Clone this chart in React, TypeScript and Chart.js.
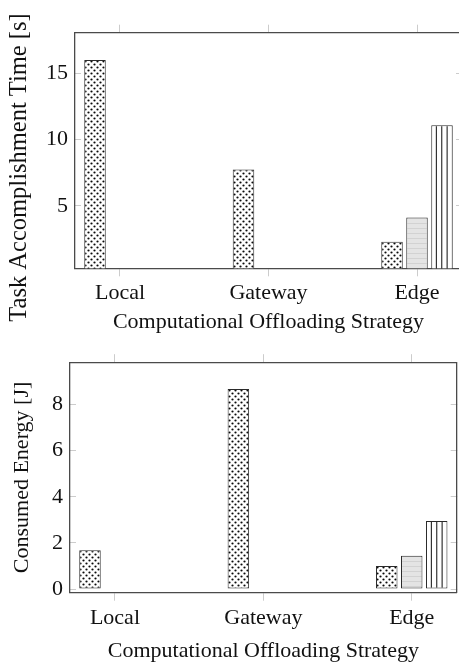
import React, { useEffect, useRef } from 'react';
import { Chart, registerables } from 'chart.js';

Chart.register(...registerables);

// ---------- data ----------
const categories = ['Local', 'Gateway', 'Edge'];

const timeDots = [16.0, 7.75, 2.3];
const timeHLines = [null, null, 4.12];
const timeVLines = [null, null, 11.08];

const energyDots = [1.68, 8.68, 1.0];
const energyHLines = [null, null, 1.44];
const energyVLines = [null, null, 2.95];

const timeTicks = [5, 10, 15];
const energyTicks = [0, 2, 4, 6, 8];

const xTitle = 'Computational Offloading Strategy';
const timeTitle = 'Task Accomplishment Time [s]';
const energyTitle = 'Consumed Energy [J]';

// ---------- styling ----------
const FONT = '"Liberation Serif", "Times New Roman", serif';
const TEXT = '#111111';
const FRAME = '#4a4a4a';
const TICK = '#cccccc';

function makeTile(w: number, h: number, draw: (g: CanvasRenderingContext2D) => void): CanvasPattern {
  const c = document.createElement('canvas');
  c.width = w;
  c.height = h;
  const g = c.getContext('2d')!;
  draw(g);
  return g.createPattern(c, 'repeat')!;
}

function dotsPattern() {
  return makeTile(6, 6, (g) => {
    g.fillStyle = '#ffffff';
    g.fillRect(0, 0, 6, 6);
    g.fillStyle = '#0a0a0a';
    for (const [cx, cy] of [[1.5, 1.5], [4.5, 4.5]]) {
      g.beginPath();
      g.arc(cx, cy, 1.1, 0, Math.PI * 2);
      g.fill();
    }
  });
}

function hLinesPattern() {
  return makeTile(8, 5, (g) => {
    g.fillStyle = '#e4e4e4';
    g.fillRect(0, 0, 8, 5);
    g.fillStyle = '#d2d2d2';
    g.fillRect(0, 0, 8, 1);
  });
}

function vLinesPattern() {
  return makeTile(43, 8, (g) => {
    g.fillStyle = '#ffffff';
    g.fillRect(0, 0, 43, 8);
    g.strokeStyle = '#222222';
    g.lineWidth = 1.1;
    for (let k = 0; k < 8; k++) {
      const x = k * 5.375;
      g.beginPath();
      g.moveTo(x, 0);
      g.lineTo(x, 8);
      g.stroke();
    }
  });
}

const alignPatterns = {
  id: 'alignPatterns',
  beforeDatasetsDraw(chart: any) {
    chart.data.datasets.forEach((ds: any, i: number) => {
      const meta = chart.getDatasetMeta(i);
      const pats = ds.backgroundColor;
      if (!Array.isArray(pats)) return;
      meta.data.forEach((el: any, j: number) => {
        const p = pats[j];
        if (p && typeof p.setTransform === 'function') {
          const left = Math.round(el.x - el.width / 2);
          p.setTransform(new DOMMatrix([1, 0, 0, 1, left, Math.round(el.y)]));
        }
      });
    });
  },
};

function points(values: (number | null)[]) {
  return values
    .map((v, i) => (v == null ? null : { x: i, y: v }))
    .filter((p) => p !== null) as { x: number; y: number }[];
}

function dataset(values: (number | null)[], pat: () => CanvasPattern) {
  const data = points(values);
  return {
    data,
    backgroundColor: data.map(() => pat()),
    borderColor: '#2a2a2a',
    borderWidth: 1,
    borderSkipped: false,
    categoryPercentage: 0.505,
    barPercentage: 0.86,
  };
}

type Cfg = {
  series: (number | null)[][];
  yMin: number;
  yMax: number;
  yTicks: number[];
  yTitle: string;
  titleAsPlugin: boolean;
  yTitleSize: number;
  yTitlePad: number;
  yWidth: number;
  xHeight: number;
  topHeight: number;
  padRight: number;
};

function buildConfig(c: Cfg): any {
  const font = { family: FONT, size: 22 };
  const xTicksFromCats = (s: any) => {
    s.ticks = categories.map((_, i) => ({ value: i }));
  };
  const yTicksFromList = (s: any) => {
    s.ticks = c.yTicks.map((v) => ({ value: v }));
  };
  const xCommon = {
    type: 'linear',
    min: -0.303,
    max: 2.303,
    offset: false,
    afterBuildTicks: xTicksFromCats,
    grid: { drawOnChartArea: false, drawTicks: true, tickLength: 8, color: TICK, lineWidth: 1, offset: false },
    border: { display: true, color: FRAME, width: 1.3 },
  };
  const yCommon = {
    type: 'linear',
    min: c.yMin,
    max: c.yMax,
    afterBuildTicks: yTicksFromList,
    grid: { drawOnChartArea: false, drawTicks: true, tickLength: -6, color: TICK, lineWidth: 1 },
    border: { display: true, color: FRAME, width: 1.3 },
  };
  const titleBox = c.yTitleSize * 1.2 + c.yTitlePad;
  return {
    type: 'bar',
    data: {
      datasets: [
        dataset(c.series[0], dotsPattern),
        dataset(c.series[1], hLinesPattern),
        dataset(c.series[2], vLinesPattern),
      ],
    },
    plugins: [alignPatterns],
    options: {
      animation: false,
      responsive: false,
      maintainAspectRatio: false,
      events: [],
      layout: { padding: { left: 0, right: c.padRight, top: 0, bottom: 0 } },
      plugins: {
        legend: { display: false },
        tooltip: { enabled: false },
        title: {
          display: c.titleAsPlugin,
          text: c.yTitle,
          position: 'left',
          fullSize: true,
          color: TEXT,
          font: { family: FONT, size: c.yTitleSize, weight: 'normal' },
          padding: { top: c.yTitlePad, bottom: 0 },
        },
      },
      scales: {
        x: {
          ...xCommon,
          position: 'bottom',
          ticks: {
            callback: (v: number) => categories[v] ?? '',
            padding: 4,
            font,
            color: TEXT,
            maxRotation: 0,
            autoSkip: false,
          },
          title: { display: true, text: xTitle, font, color: TEXT, padding: { top: 0, bottom: 0 } },
          afterFit: (s: any) => {
            s.height = c.xHeight;
          },
        },
        x2: {
          ...xCommon,
          position: 'top',
          ticks: { display: false },
          afterFit: (s: any) => {
            s.height = c.topHeight;
          },
        },
        y: {
          ...yCommon,
          position: 'left',
          ticks: { padding: 13, font, color: TEXT },
          title: {
            display: !c.titleAsPlugin,
            text: c.yTitle,
            font: { family: FONT, size: c.yTitleSize },
            color: TEXT,
            padding: { top: c.yTitlePad, bottom: 0 },
          },
          afterFit: (s: any) => {
            s.width = c.titleAsPlugin ? c.yWidth - titleBox : c.yWidth;
          },
        },
        y2: {
          ...yCommon,
          position: 'right',
          ticks: { display: false },
          afterFit: (s: any) => {
            s.width = 0;
          },
        },
      },
    },
  };
}

function BarPanel({ width, height, cfg }: { width: number; height: number; cfg: Cfg }) {
  const ref = useRef<HTMLCanvasElement | null>(null);
  useEffect(() => {
    if (!ref.current) return;
    const chart = new Chart(ref.current, buildConfig(cfg));
    return () => chart.destroy();
  }, []);
  return <canvas ref={ref} width={width} height={height} style={{ display: 'block', width, height }} />;
}

export default function App() {
  const topCfg: Cfg = {
    series: [timeDots, timeHLines, timeVLines],
    yMin: 0.3,
    yMax: 18.05,
    yTicks: timeTicks,
    yTitle: timeTitle,
    titleAsPlugin: true,
    yTitleSize: 24.5,
    yTitlePad: 5,
    yWidth: 75,
    xHeight: 66.7,
    topHeight: 32.7,
    padRight: 8,
  };
  const bottomCfg: Cfg = {
    series: [energyDots, energyHLines, energyVLines],
    yMin: -0.16,
    yMax: 9.84,
    yTicks: energyTicks,
    yTitle: energyTitle,
    titleAsPlugin: false,
    yTitleSize: 22,
    yTitlePad: 9.2,
    yWidth: 70,
    xHeight: 71.3,
    topHeight: 20.7,
    padRight: 2.3,
  };
  return (
    <div
      style={{
        position: 'fixed',
        left: 0,
        top: 0,
        width: 459,
        height: 664,
        overflow: 'hidden',
        background: '#ffffff',
      }}
    >
      <div style={{ position: 'absolute', left: 0, top: 0 }}>
        <BarPanel width={470} height={335} cfg={topCfg} />
      </div>
      <div style={{ position: 'absolute', left: 0, top: 336 }}>
        <BarPanel width={459} height={328} cfg={bottomCfg} />
      </div>
    </div>
  );
}
